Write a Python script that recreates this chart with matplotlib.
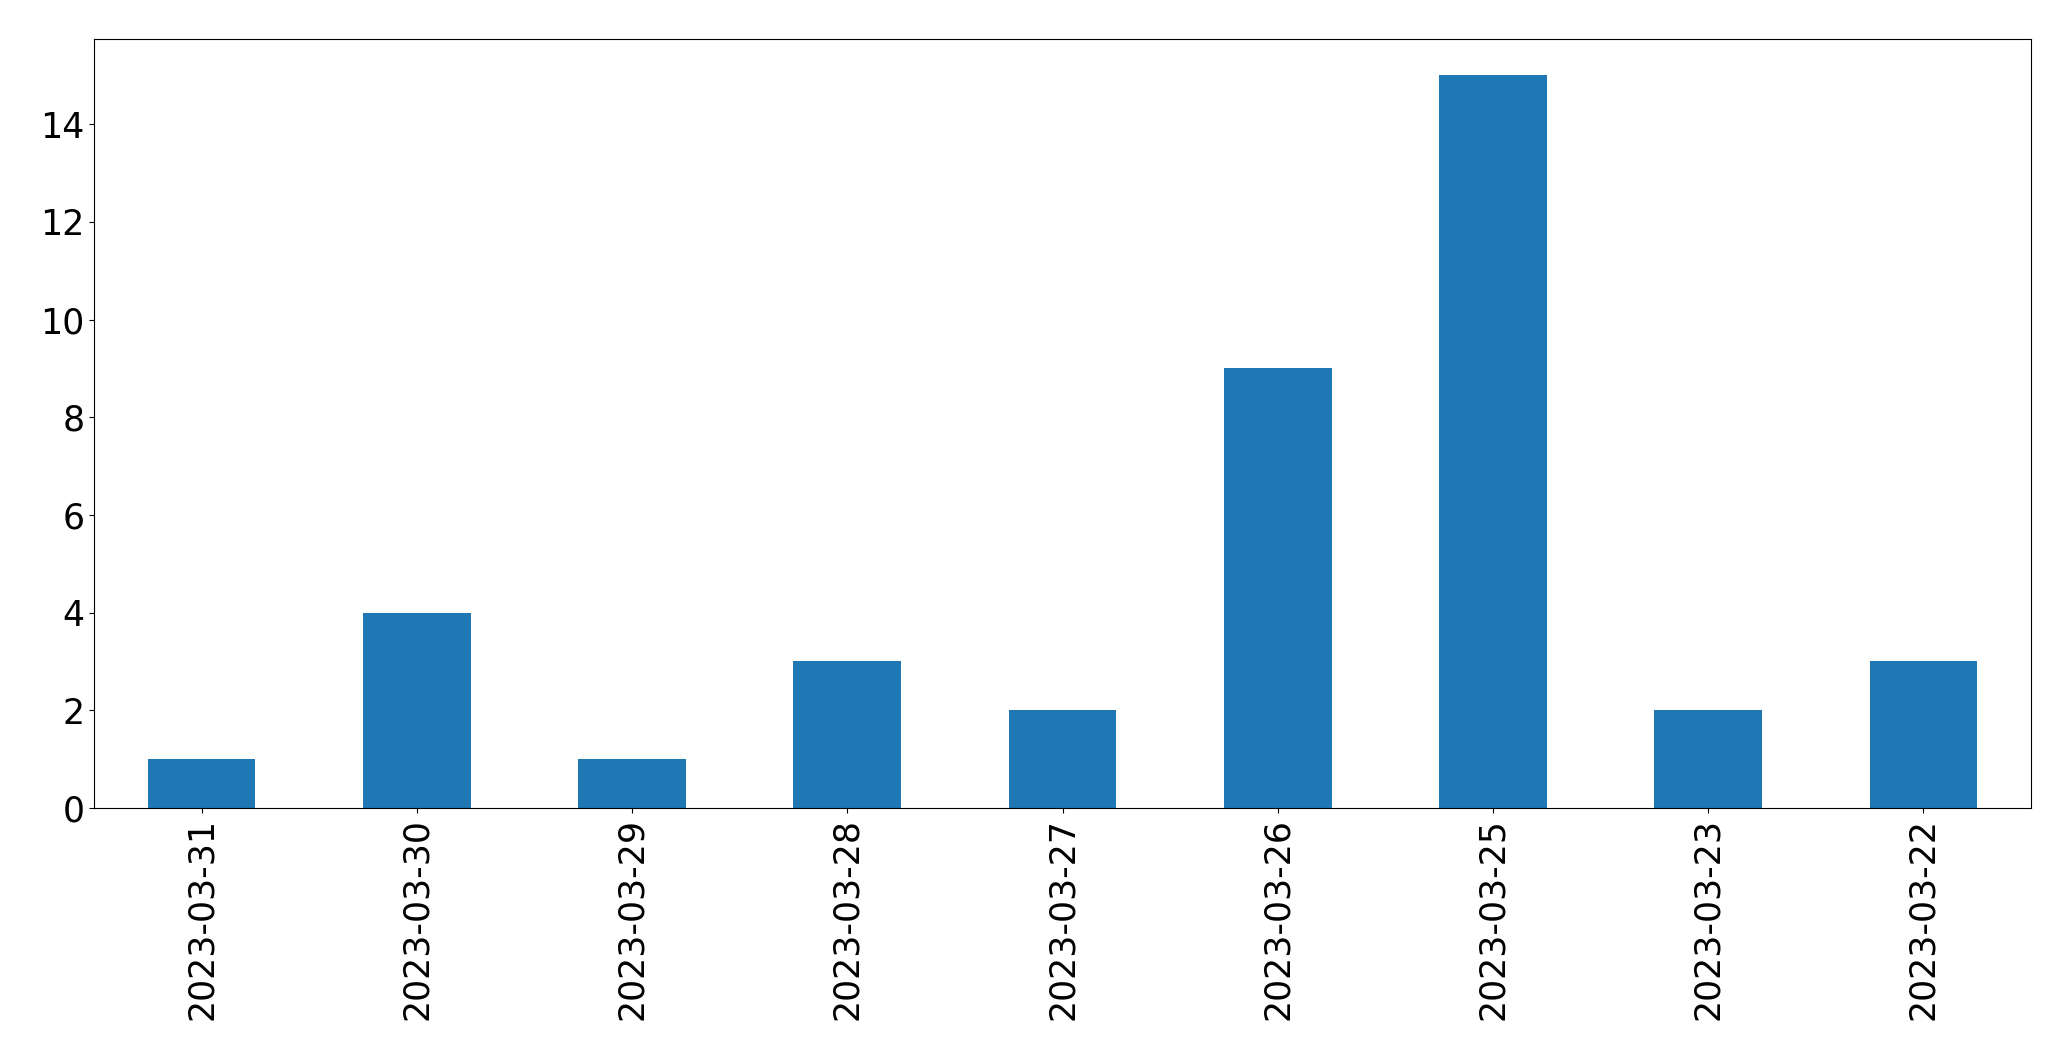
import matplotlib
matplotlib.use("Agg")
import matplotlib.pyplot as plt
import pandas as pd

dates = ["2023-03-31", "2023-03-30", "2023-03-29", "2023-03-28", "2023-03-27",
         "2023-03-26", "2023-03-25", "2023-03-23", "2023-03-22"]
counts = [1, 4, 1, 3, 2, 9, 15, 2, 3]

s = pd.Series(counts, index=dates)

fig = plt.figure(figsize=(20.71, 10.61), dpi=100)
ax = fig.add_axes([0.0454, 0.2385, 0.9353, 0.7250])
s.plot(kind="bar", ax=ax, fontsize=25, color="#1f77b4")
fig.savefig("out.png", dpi=100)
